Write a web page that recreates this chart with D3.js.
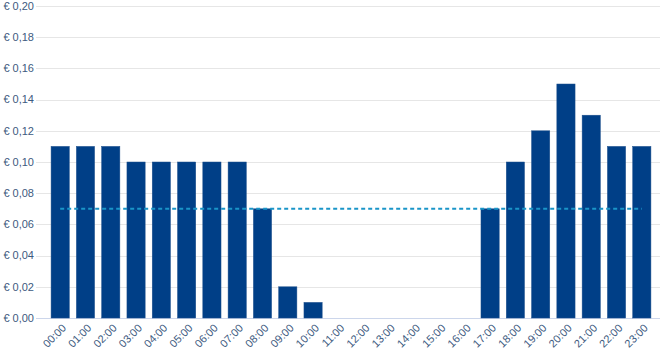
<!DOCTYPE html>
<html>
<head>
<meta charset="utf-8">
<script src="https://cdn.jsdelivr.net/npm/d3@7"></script>
<style>
  body { margin: 0; background: #fff; }
  text { font-family: "Liberation Sans", Arial, sans-serif; }
</style>
</head>
<body>
<div id="chart"></div>
<script>
var hours = ["00:00","01:00","02:00","03:00","04:00","05:00","06:00","07:00","08:00","09:00","10:00","11:00",
             "12:00","13:00","14:00","15:00","16:00","17:00","18:00","19:00","20:00","21:00","22:00","23:00"];
var prices = [0.11, 0.11, 0.11, 0.10, 0.10, 0.10, 0.10, 0.10, 0.07, 0.02, 0.01, 0,
              0, 0, 0, 0, 0, 0.07, 0.10, 0.12, 0.15, 0.13, 0.11, 0.11];
var average = [0.07, 0.07, 0.07, 0.07, 0.07, 0.07, 0.07, 0.07, 0.07, 0.07, 0.07, 0.07,
               0.07, 0.07, 0.07, 0.07, 0.07, 0.07, 0.07, 0.07, 0.07, 0.07, 0.07, 0.07];
var yTicks = [0, 0.02, 0.04, 0.06, 0.08, 0.10, 0.12, 0.14, 0.16, 0.18, 0.20];

var width = 660, height = 350;
var plotLeft = 36, plotRight = 660, plotTop = 6, plotBottom = 318;

var svg = d3.select("#chart")
  .append("svg")
    .attr("width", width)
    .attr("height", height);

var x = d3.scaleBand()
  .domain(hours)
  .range([44, 658])
  .padding(0.28);

var y = d3.scaleLinear()
  .domain([0, 0.20])
  .range([plotBottom, plotTop]);

var fmt = function(d) { return "€ " + d.toFixed(2).replace(".", ","); };

// gridlines
svg.append("g")
  .selectAll("line")
  .data(yTicks)
  .enter()
  .append("line")
    .attr("x1", plotLeft)
    .attr("x2", plotRight)
    .attr("y1", function(d) { return Math.round(y(d)) + 0.5; })
    .attr("y2", function(d) { return Math.round(y(d)) + 0.5; })
    .attr("stroke", function(d) { return d === 0 ? "#ccd6eb" : "#e6e6e6"; })
    .attr("stroke-width", 1);

// y labels
svg.append("g")
  .selectAll("text")
  .data(yTicks)
  .enter()
  .append("text")
    .attr("x", 34)
    .attr("y", function(d) { return y(d); })
    .attr("dy", "0.35em")
    .attr("text-anchor", "end")
    .attr("font-size", 11)
    .attr("fill", "#3d5a80")
    .text(fmt);

// bars
svg.append("g")
  .selectAll("rect")
  .data(prices)
  .enter()
  .append("rect")
    .attr("x", function(d, i) { return x(hours[i]); })
    .attr("y", function(d) { return y(d); })
    .attr("width", x.bandwidth())
    .attr("height", function(d) { return plotBottom - y(d); })
    .attr("fill", "#003f87")
    .attr("stroke", "#1d4f8c")
    .attr("stroke-width", 0.5);

// average line
var line = d3.line()
  .x(function(d, i) { return x(hours[i]) + x.bandwidth() / 2; })
  .y(function(d) { return y(d); });

svg.append("path")
  .datum(average)
  .attr("d", line)
  .attr("fill", "none")
  .attr("stroke", "#1a95c8")
  .attr("stroke-width", 2)
  .attr("stroke-dasharray", "4,3");

// x labels
svg.append("g")
  .selectAll("text")
  .data(hours)
  .enter()
  .append("text")
    .attr("transform", function(d) {
      return "translate(" + (x(d) + x.bandwidth() / 2 + 4) + ",326)rotate(-45)";
    })
    .attr("text-anchor", "end")
    .attr("dy", "0.35em")
    .attr("font-size", 11)
    .attr("fill", "#3d5a80")
    .text(function(d) { return d; });
</script>
</body>
</html>
